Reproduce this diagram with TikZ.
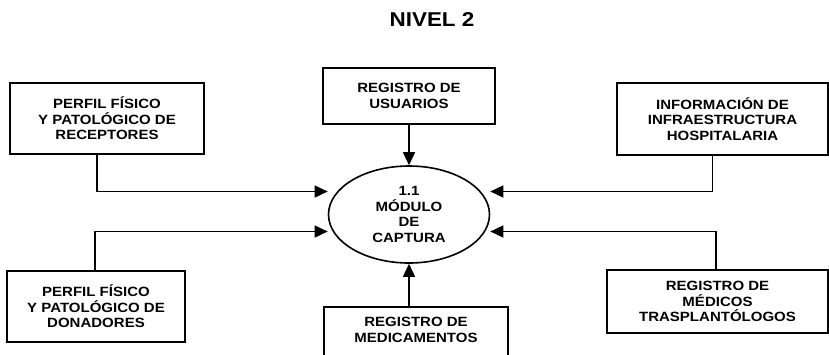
\documentclass[tikz,border=0pt]{standalone}
\usepackage{fontspec}
\setmainfont{Liberation Sans}[FakeStretch=1.12]
\usepackage{tikz}
\usetikzlibrary{positioning,shapes.geometric,arrows.meta}

\tikzset{
  entidad/.style={draw, line width=1.6pt, align=center, inner sep=0pt,
    font=\bfseries\fontsize{13.4}{15.5}\selectfont},
  proceso/.style={ellipse, draw, line width=1.6pt, align=center, inner sep=0pt,
    font=\bfseries\fontsize{13.4}{15.5}\selectfont},
  flujo/.style={line width=1.6pt, -{Triangle[length=13pt,width=12pt]}},
}

\begin{document}
\begin{tikzpicture}[x=1pt, y=1pt, on grid]
    \useasboundingbox (0,0) rectangle (829,-354);

      % Titulo
      \node[font=\bfseries\fontsize{20}{24}\selectfont] (titulo) at (432,-20) {NIVEL 2};

      % Proceso
      \node[proceso, minimum width=161pt, minimum height=97pt] (modulo) at (409,-214.5) {1.1\\MÓDULO\\DE\\CAPTURA};

      % Entidades
      \node[entidad, minimum width=194pt, minimum height=71pt] (receptores) [above left=96pt and 302pt of modulo] {PERFIL FÍSICO\\Y PATOLÓGICO DE\\RECEPTORES};
      \node[entidad, minimum width=172pt, minimum height=56pt] (usuarios) [above=118.5pt of modulo] {REGISTRO DE\\USUARIOS};
      \node[entidad, minimum width=211pt, minimum height=72pt] (informacion) [above right=95.5pt and 313.5pt of modulo] {INFORMACIÓN DE\\INFRAESTRUCTURA\\HOSPITALARIA};
      \node[entidad, minimum width=178pt, minimum height=71pt] (donadores) [below left=92pt and 313pt of modulo] {PERFIL FÍSICO\\Y PATOLÓGICO DE\\DONADORES};
      \node[entidad, minimum width=221pt, minimum height=63pt] (medicos) [below right=87pt and 308.5pt of modulo] {REGISTRO DE\\MÉDICOS\\TRASPLANTÓLOGOS};
      \node[entidad, draw=none, minimum width=182pt, minimum height=44pt] (medicamentos) [below right=115.5pt and 7pt of modulo] {REGISTRO DE\\MEDICAMENTOS};
      \draw[line width=1.6pt] ([yshift=-20pt]medicamentos.south west) -- (medicamentos.north west)
        -- (medicamentos.north east) -- ([yshift=-20pt]medicamentos.south east);

      % Flujos
      \draw[flujo] (usuarios.south) -- (modulo.north);
      \draw[flujo] ([xshift=-10pt]receptores.south) |- ([yshift=23pt]modulo.west);
      \draw[flujo] ([xshift=-10pt]informacion.south) |- ([yshift=23pt]modulo.east);
      \draw[flujo] ([xshift=-1pt]donadores.north) |- ([yshift=-17pt]modulo.west);
      \draw[flujo] ([xshift=-1.5pt]medicos.north) |- ([yshift=-17pt]modulo.east);
      \draw[flujo] (medicamentos.north -| modulo.south) -- (modulo.south);

\end{tikzpicture}
\end{document}
